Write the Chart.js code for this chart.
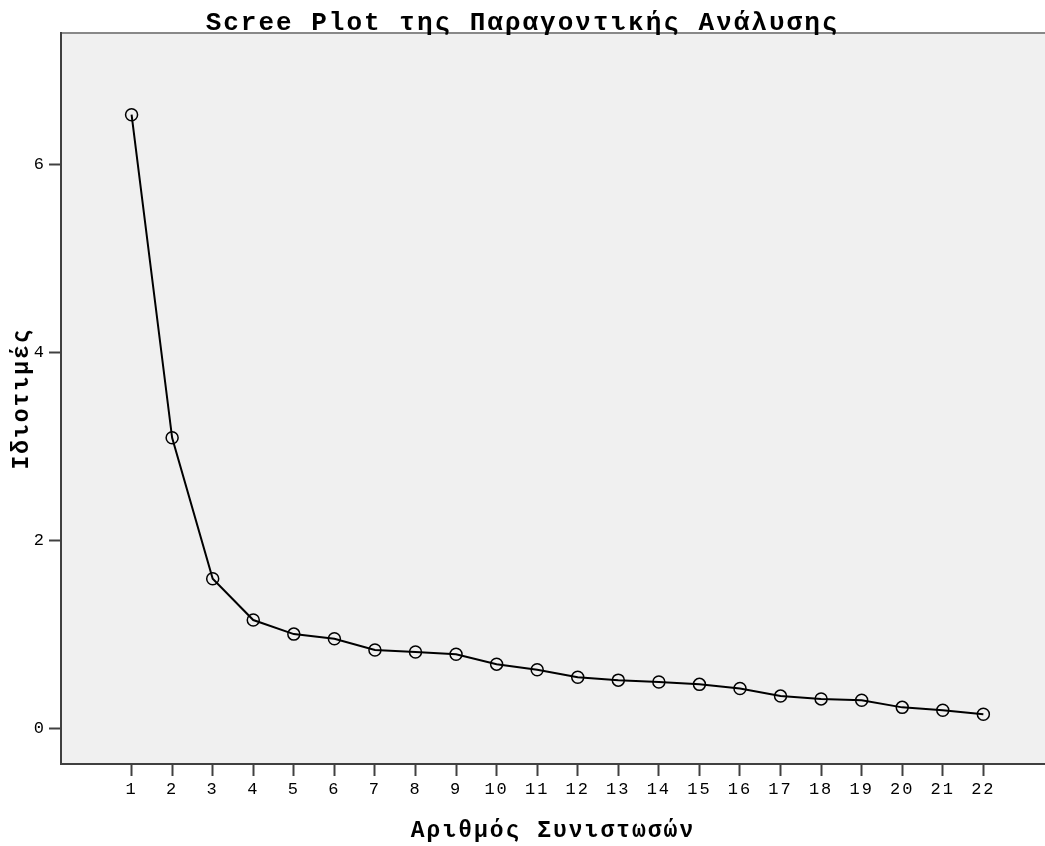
<!DOCTYPE html>
<html>
<head>
<meta charset="utf-8">
<script src="https://cdn.jsdelivr.net/npm/chart.js"></script>
<style>
  html, body { margin: 0; padding: 0; background: #fff; }
</style>
</head>
<body>
<canvas id="scree" width="1045" height="846"></canvas>
<script>
    // components (x axis) and their eigenvalues
    const components = [1, 2, 3, 4, 5, 6, 7, 8, 9, 10, 11, 12, 13, 14, 15, 16, 17, 18, 19, 20, 21, 22];
    const eigenvalues = [6.53, 3.09, 1.59, 1.15, 1.00, 0.95, 0.83, 0.81, 0.785, 0.68, 0.62, 0.54,
                         0.51, 0.49, 0.465, 0.42, 0.34, 0.31, 0.295, 0.22, 0.19, 0.146];
    const yTicks = [0, 2, 4, 6];

    const titleText = 'Scree Plot της Παραγοντικής Ανάλυσης';
    const xTitle = 'Αριθμός Συνιστωσών';
    const yTitle = 'Ιδιοτιμές';

    const points = components.map((c, i) => ({ x: c, y: eigenvalues[i] }));

    const mono = 'Liberation Mono, Courier New, monospace';
    const axisColor = '#404040';

    // grey plot background, top frame line and spaced-out lettering
    const plotFrame = {
        id: 'plotFrame',
        beforeLayout(chart) { chart.ctx.letterSpacing = '2px'; },
        beforeDraw(chart) {
            const { ctx, chartArea: a } = chart;
            ctx.letterSpacing = '2px';
            ctx.save();
            ctx.fillStyle = '#f0f0f0';
            ctx.fillRect(a.left, a.top, a.right - a.left, a.bottom - a.top);
            ctx.strokeStyle = '#888888';
            ctx.lineWidth = 2;
            ctx.beginPath();
            ctx.moveTo(a.left, a.top);
            ctx.lineTo(a.right, a.top);
            ctx.stroke();
            ctx.restore();
        }
    };

    const ctx = document.getElementById('scree').getContext('2d');

    new Chart(ctx, {
        type: 'line',
        data: {
            datasets: [{
                data: points,
                borderColor: '#000',
                borderWidth: 2,
                tension: 0,
                pointStyle: 'circle',
                pointRadius: 6,
                pointBorderWidth: 1.5,
                pointBorderColor: '#000',
                pointBackgroundColor: 'rgba(0,0,0,0)'
            }]
        },
        options: {
            responsive: false,
            animation: false,
            layout: { padding: 0, autoPadding: false },
            plugins: {
                legend: { display: false },
                tooltip: { enabled: false },
                title: {
                    display: true,
                    text: titleText,
                    color: '#000',
                    font: { family: mono, size: 26, weight: 'bold', lineHeight: 1 },
                    padding: { top: 10, bottom: -3 }
                }
            },
            scales: {
                x: {
                    type: 'linear',
                    min: -0.74,
                    max: 23.52,
                    afterBuildTicks(scale) {
                        scale.ticks = components.map(v => ({ value: v }));
                    },
                    afterFit(scale) {
                        scale.height = 82;
                        scale.paddingLeft = 0;
                        scale.paddingRight = 0;
                    },
                    ticks: {
                        color: '#000',
                        font: { family: mono, size: 17 },
                        padding: 3,
                        maxRotation: 0,
                        autoSkip: false
                    },
                    grid: {
                        drawOnChartArea: false,
                        tickLength: 12,
                        tickWidth: 2,
                        tickColor: axisColor
                    },
                    border: { color: axisColor, width: 2 },
                    title: {
                        display: true,
                        text: xTitle,
                        color: '#000',
                        font: { family: mono, size: 23, weight: 'bold' },
                        padding: { top: 0, bottom: 1 }
                    }
                },
                y: {
                    min: -0.383,
                    max: 7.40,
                    afterBuildTicks(scale) {
                        scale.ticks = yTicks.map(v => ({ value: v }));
                    },
                    afterFit(scale) {
                        scale.width = 61;
                        scale.paddingTop = 0;
                        scale.paddingBottom = 0;
                    },
                    ticks: {
                        color: '#000',
                        font: { family: mono, size: 17 },
                        padding: 3
                    },
                    grid: {
                        drawOnChartArea: false,
                        tickLength: 12,
                        tickWidth: 2,
                        tickColor: axisColor
                    },
                    border: { color: axisColor, width: 2 },
                    title: {
                        display: true,
                        text: yTitle,
                        color: '#000',
                        font: { family: mono, size: 23, weight: 'bold' },
                        padding: { top: 8, bottom: 0 }
                    }
                }
            }
        },
        plugins: [plotFrame]
    });
</script>
</body>
</html>
